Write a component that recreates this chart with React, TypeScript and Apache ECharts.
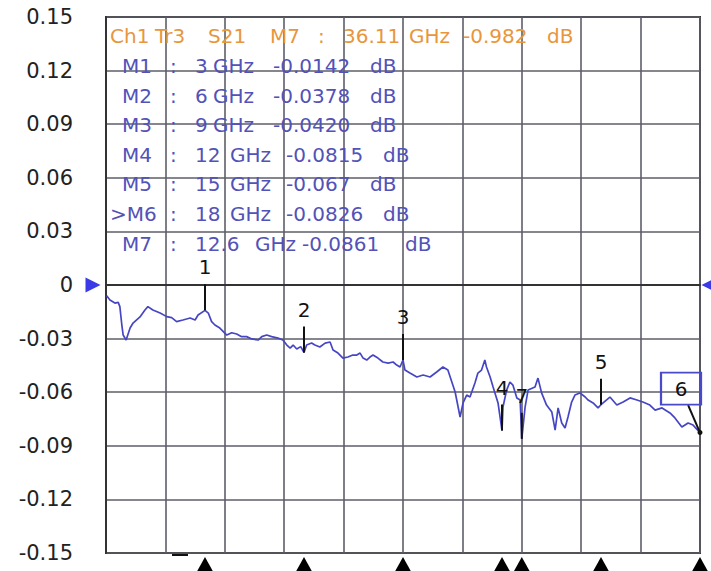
import React, { useEffect, useRef } from "react";
import * as echarts from "echarts";

// Trace: frequency (GHz) and S21 (dB)
const freqs = [
  0.02, 0.12, 0.27, 0.37, 0.42, 0.48, 0.52, 0.61, 0.73, 0.82, 1.03, 1.18, 1.27, 1.42, 1.64, 1.84, 1.99, 2.14, 2.33, 2.55, 2.7, 2.79, 3.0, 3.1, 3.2,
  3.3, 3.45, 3.66, 3.81, 3.96, 4.11, 4.26, 4.42, 4.61, 4.72, 4.87, 5.02, 5.21, 5.36, 5.48, 5.58, 5.67, 5.78, 5.9, 6.0, 6.08, 6.23, 6.33, 6.48, 6.64,
  6.79, 6.88, 7.03, 7.18, 7.33, 7.48, 7.6, 7.7, 7.79, 7.9, 8.0, 8.09, 8.24, 8.39, 8.55, 8.7, 8.81, 8.91, 9.0, 9.06, 9.21, 9.42, 9.61, 9.82, 10.02,
  10.21, 10.36, 10.48, 10.58, 10.67, 10.73, 10.82, 10.93, 11.03, 11.18, 11.27, 11.38, 11.48, 11.53, 11.64, 11.73, 11.88, 12.0, 12.03, 12.14, 12.24,
  12.33, 12.45, 12.55, 12.6, 12.7, 12.79, 13.0, 13.09, 13.2, 13.35, 13.51, 13.61, 13.7, 13.81, 13.91, 14.0, 14.11, 14.21, 14.36, 14.52, 14.61,
  14.76, 14.91, 15.0, 15.27, 15.48, 15.67, 15.88, 16.09, 16.27, 16.48, 16.64, 16.85, 17.09, 17.24, 17.45, 17.64, 17.79, 18.0,
];
const s21 = [
  -0.006, -0.0084, -0.0101, -0.0097, -0.0121, -0.0224, -0.028, -0.0308, -0.0241, -0.0213, -0.0179, -0.014, -0.0121, -0.014, -0.0157, -0.0177, -0.0183,
  -0.0205, -0.0196, -0.0185, -0.0196, -0.0168, -0.0142, -0.0157, -0.0205, -0.0224, -0.0241, -0.028, -0.0267, -0.0274, -0.0289, -0.0289, -0.0302,
  -0.0308, -0.0289, -0.028, -0.0289, -0.0297, -0.0308, -0.0336, -0.0353, -0.0336, -0.0358, -0.0345, -0.0378, -0.0336, -0.0325, -0.0336, -0.0347,
  -0.0325, -0.0319, -0.0364, -0.0381, -0.0409, -0.0403, -0.0392, -0.0392, -0.0381, -0.0409, -0.042, -0.0403, -0.0392, -0.0409, -0.0431, -0.0437,
  -0.0431, -0.0448, -0.0459, -0.042, -0.0476, -0.0493, -0.0515, -0.0504, -0.0515, -0.0487, -0.0459, -0.0476, -0.0543, -0.0599, -0.0683, -0.0739,
  -0.066, -0.0616, -0.0627, -0.0549, -0.0493, -0.0476, -0.042, -0.0459, -0.0515, -0.0571, -0.066, -0.0815, -0.0683, -0.0588, -0.0543, -0.056, -0.0632,
  -0.0644, -0.0861, -0.0683, -0.0588, -0.0571, -0.0521, -0.0604, -0.0672, -0.0711, -0.0812, -0.0688, -0.0772, -0.08, -0.0739, -0.0655, -0.0616,
  -0.0604, -0.0627, -0.0644, -0.066, -0.0688, -0.067, -0.0627, -0.0672, -0.0655, -0.0632, -0.0644, -0.0655, -0.0672, -0.07, -0.0688, -0.0716, -0.0744,
  -0.0795, -0.0772, -0.0784, -0.0826,
];

// Markers
const markerNames = ["M1", "M2", "M3", "M4", "M5", ">M6", "M7"];
const markerIds = ["1", "2", "3", "4", "5", "6", "7"];
const markerFreqs = [3, 6, 9, 12, 15, 18, 12.6];
const markerFreqText = ["3", "6", "9", "12", "15", "18", "12.6"];
const markerValueText = ["-0.0142", "-0.0378", "-0.0420", "-0.0815", "-0.067", "-0.0826", "-0.0861"];
const markerValues = [-0.0142, -0.0378, -0.042, -0.0815, -0.067, -0.0826, -0.0861];
const activeMarker = 5;

// Header
const headerTokens = ["Ch1", "Tr3", "S21", "M7", ":", "36.11", "GHz", "-0.982", "dB"];

const yMin = -0.15;
const yMax = 0.15;
const yStep = 0.03;
const xMin = 0;
const xMax = 18;
const xStep = 1.8;

const FONT = "DejaVu Sans";
const BLUE_TXT = "#5252b8";
const ORANGE = "#e8963c";
const TRACE = "#4646c4";

// layout (text x positions, px)
const headerX = [110, 155, 208, 270, 318, 343, 409, 463, 547];
const rowNameX = [122, 122, 122, 122, 122, 110, 122];
const rowValX = [273, 273, 273, 286, 286, 286, 302];
const rowDbX = [370, 370, 370, 383, 370, 383, 405];
const rowGhzX = [213, 213, 213, 230, 230, 230, 255];

export default function App() {
  const ref = useRef<HTMLDivElement>(null);
  useEffect(() => {
    if (!ref.current) return;
    const chart = echarts.init(ref.current, undefined, { renderer: "svg" });

    const graphics: any[] = [];
    headerTokens.forEach((t, i) => {
      graphics.push({
        type: "text",
        left: headerX[i],
        top: 26,
        style: { text: t, fill: ORANGE, font: `20px '${FONT}'` },
        z: 10,
      });
    });
    markerNames.forEach((n, i) => {
      const top = 56 + i * 29.6;
      const parts: [string, number][] = [
        [n, rowNameX[i]],
        [":", 170],
        [markerFreqText[i], 195],
        ["GHz", rowGhzX[i]],
        [markerValueText[i], rowValX[i]],
        ["dB", rowDbX[i]],
      ];
      parts.forEach(([t, x]) => {
        graphics.push({
          type: "text",
          left: x,
          top,
          style: { text: t, fill: BLUE_TXT, font: `20px '${FONT}'` },
          z: 10,
        });
      });
    });
    graphics.push({ type: "rect", left: 172, top: 554, shape: { width: 16, height: 2 }, style: { fill: "#111" } });

    const markPointData: any[] = [];
    markerFreqs.forEach((f, i) => {
      if (i === activeMarker) {
        markPointData.push({
          coord: [f, markerValues[i]],
          symbol: "rect",
          symbolSize: [40, 32],
          symbolOffset: [-19, -44],
          itemStyle: { color: "rgba(255,255,255,0)", borderColor: "#4a4ac8", borderWidth: 2 },
          label: { show: true, formatter: markerIds[i], position: "inside", offset: [0, 0], color: "#111", fontSize: 20, fontFamily: FONT },
        });
      } else {
        markPointData.push({
          coord: [f, markerValues[i]],
          symbol: "rect",
          symbolSize: [2, 26],
          symbolOffset: [0, -13],
          itemStyle: { color: "#111" },
          label: { show: true, formatter: markerIds[i], position: "inside", offset: [0, -30], color: "#111", fontSize: 20, fontFamily: FONT },
        });
      }
      markPointData.push({
        coord: [f, yMin],
        symbol: "triangle",
        symbolSize: [20, 18],
        symbolOffset: [0, 13],
        itemStyle: { color: "#000" },
        label: { show: false },
      });
    });
    markPointData.push({
      coord: [xMin, 0],
      symbol: "triangle",
      symbolSize: [15, 15],
      symbolRotate: -90,
      symbolOffset: [-13, 0],
      itemStyle: { color: "#3a3ae6" },
      label: { show: false },
    });
    markPointData.push({
      coord: [xMax, 0],
      symbol: "triangle",
      symbolSize: [15, 15],
      symbolRotate: 90,
      symbolOffset: [9, 0],
      itemStyle: { color: "#3a3ae6" },
      label: { show: false },
    });

    const af = markerFreqs[activeMarker];
    const av = markerValues[activeMarker];

    chart.setOption({
      animation: false,
      backgroundColor: "#fff",
      grid: { left: 106, right: 11, top: 17, bottom: 18, show: true, borderColor: "#333", borderWidth: 2 },
      xAxis: {
        type: "value",
        min: xMin,
        max: xMax,
        interval: xStep,
        axisLabel: { show: false },
        axisTick: { show: false },
        axisLine: { show: true, lineStyle: { color: "#333", width: 2 } },
        splitLine: { show: true, lineStyle: { color: "#5e5e6a", width: 1.6 } },
      },
      yAxis: {
        type: "value",
        min: yMin,
        max: yMax,
        interval: yStep,
        axisTick: { show: false },
        axisLine: { show: true, lineStyle: { color: "#333", width: 2 } },
        splitLine: { show: true, lineStyle: { color: "#5e5e6a", width: 1.6 } },
        axisLabel: {
          margin: 33,
          color: "#222",
          fontSize: 21,
          fontFamily: FONT,
          formatter: (v: number) => (Math.abs(v) < 1e-9 ? "0" : v.toFixed(2)),
        },
      },
      graphic: graphics,
      series: [
        {
          type: "line",
          data: freqs.map((f, i) => [f, s21[i]]),
          symbol: "none",
          lineStyle: { color: TRACE, width: 1.7 },
          z: 3,
          markPoint: { silent: true, data: markPointData, z: 5 },
          markLine: {
            silent: true,
            symbol: ["none", "circle"],
            symbolSize: 5,
            label: { show: false },
            lineStyle: { color: "#111", width: 2, type: "solid" },
            data: [[{ coord: [af - 0.36, av + 0.0154] }, { coord: [af, av] }]],
          },
        },
      ],
    });
    return () => chart.dispose();
  }, []);
  return <div ref={ref} style={{ position: "fixed", left: 0, top: 0, width: 711, height: 571 }} />;
}
